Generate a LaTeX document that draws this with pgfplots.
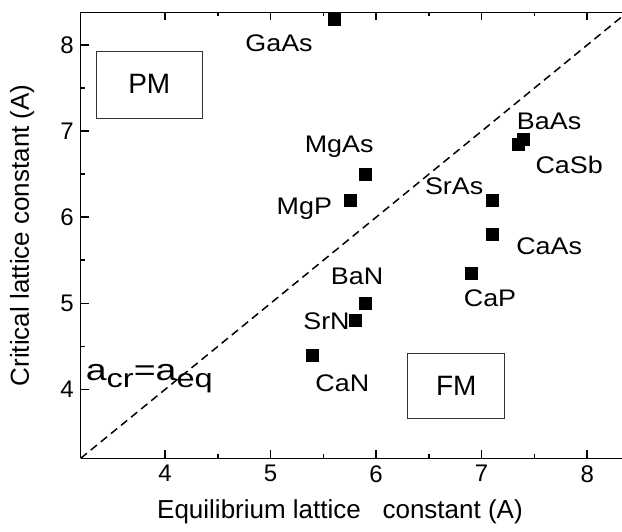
\documentclass[border=0pt]{standalone}
\usepackage{fontspec}
\setmainfont{Liberation Sans}
\usepackage{pgfplots}
\pgfplotsset{compat=1.18}
\newcommand{\lab}[1]{\scalebox{1.12}[1]{#1}}
\begin{document}
\begin{tikzpicture}
\begin{axis}[
  name=ax,
  scale only axis,
  width=270.65pt, height=223pt,
  xmin=3.2, xmax=8.33, ymin=3.2, ymax=8.38,
  axis x line*=box, axis y line*=left,
  xtick={4,5,6,7,8}, ytick={4,5,6,7,8},
  minor tick num=1,
  tick align=inside,
  major tick length=4pt, minor tick length=2pt,
  axis line style={line width=0.8pt},
  every tick/.style={black, line width=0.8pt},
  /pgf/number format/assume math mode=true,
  tick label style={font=\fontsize{12}{14}\selectfont},
  clip=true,
  xlabel={Equilibrium lattice \ \ constant (A)},
  ylabel={Critical lattice constant (A)},
  label style={font=\fontsize{13}{15}\selectfont},
  xlabel style={at={(axis description cs:0.479,-0.12)}, anchor=center},
  ylabel style={at={(axis description cs:-0.108,0.5)}, anchor=center},
]
\addplot[black, dash pattern=on 4pt off 2.5pt, line width=0.75pt, forget plot] coordinates {(3.2,3.2) (8.5,8.5)};
\addplot[only marks, mark=square*, mark size=3pt, black] table {
x y
5.60 8.30
5.90 6.50
5.76 6.20
5.90 5.00
5.80 4.80
5.40 4.40
7.40 6.90
7.35 6.85
7.10 6.20
7.10 5.80
6.90 5.35
};
\draw[line width=0.5pt, black!80] (axis cs:3.35,7.92) rectangle (axis cs:4.35,7.15);
\draw[line width=0.5pt, black!80] (axis cs:6.30,4.42) rectangle (axis cs:7.22,3.66);
\end{axis}
\begin{scope}[font=\fontsize{12}{14}\selectfont]
\node at ([xshift=(5.08-3.2)*52.75pt, yshift=(8.00-3.2)*43.25pt]ax.south west) {\lab{GaAs}};
\node at ([xshift=(5.65-3.2)*52.75pt, yshift=(6.80-3.2)*43.25pt]ax.south west) {\lab{MgAs}};
\node at ([xshift=(5.32-3.2)*52.75pt, yshift=(6.09-3.2)*43.25pt]ax.south west) {\lab{MgP}};
\node at ([xshift=(5.82-3.2)*52.75pt, yshift=(5.30-3.2)*43.25pt]ax.south west) {\lab{BaN}};
\node at ([xshift=(5.53-3.2)*52.75pt, yshift=(4.79-3.2)*43.25pt]ax.south west) {\lab{SrN}};
\node at ([xshift=(5.68-3.2)*52.75pt, yshift=(4.07-3.2)*43.25pt]ax.south west) {\lab{CaN}};
\node at ([xshift=(7.64-3.2)*52.75pt, yshift=(7.09-3.2)*43.25pt]ax.south west) {\lab{BaAs}};
\node at ([xshift=(7.83-3.2)*52.75pt, yshift=(6.59-3.2)*43.25pt]ax.south west) {\lab{CaSb}};
\node at ([xshift=(6.74-3.2)*52.75pt, yshift=(6.35-3.2)*43.25pt]ax.south west) {\lab{SrAs}};
\node at ([xshift=(7.64-3.2)*52.75pt, yshift=(5.65-3.2)*43.25pt]ax.south west) {\lab{CaAs}};
\node at ([xshift=(7.08-3.2)*52.75pt, yshift=(5.05-3.2)*43.25pt]ax.south west) {\lab{CaP}};
\end{scope}
\begin{scope}[font=\fontsize{14}{16}\selectfont]
\node at ([xshift=(3.85-3.2)*52.75pt, yshift=(7.53-3.2)*43.25pt]ax.south west) {PM};
\node at ([xshift=(6.76-3.2)*52.75pt, yshift=(4.04-3.2)*43.25pt]ax.south west) {FM};
\end{scope}
\node[font=\fontsize{15}{18}\selectfont] at ([xshift=(3.85-3.2)*52.75pt, yshift=(4.12-3.2)*43.25pt]ax.south west) {\scalebox{1.25}[1]{a\raisebox{-0.4ex}{\fontsize{13}{15}\selectfont cr}=a\raisebox{-0.4ex}{\fontsize{13}{15}\selectfont eq}}};
\pgfresetboundingbox
\path[use as bounding box] ([xshift=-40.35pt, yshift=-36.35pt]ax.south west) rectangle ++(311pt,265.5pt);
\end{tikzpicture}
\end{document}
